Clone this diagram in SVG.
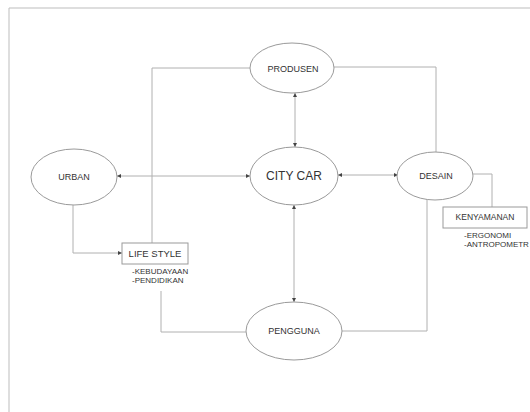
<svg xmlns="http://www.w3.org/2000/svg" width="530" height="412" viewBox="0 0 530 412">
<style>
.ell{fill:#fff;stroke:#9a9a9a;stroke-width:1}
.box{fill:#fff;stroke:#9a9a9a;stroke-width:1}
.ln{fill:none;stroke:#b0b0b0;stroke-width:1}
text{font-family:"Liberation Sans",Arial,sans-serif;fill:#333}
.lbl{font-size:9px;text-anchor:middle}
.sub{font-size:8px}
</style>
<defs>
<marker id="ah" viewBox="0 0 6 6" refX="6" refY="3" markerWidth="4" markerHeight="4" orient="auto-start-reverse" markerUnits="userSpaceOnUse">
<path d="M0,0 L6,3 L0,6 Z" fill="#444"/>
</marker>
</defs>
<rect x="0" y="0" width="530" height="412" fill="#fff"/>
<g id="frame">
<path d="M9,412 V8 H530" fill="none" stroke="#bdbdbd" stroke-width="1"/>
</g>
<g id="connectors">
<line class="ln" x1="295" y1="93" x2="295" y2="147" marker-start="url(#ah)" marker-end="url(#ah)"/>
<line class="ln" x1="117" y1="176" x2="250" y2="176" marker-start="url(#ah)" marker-end="url(#ah)"/>
<line class="ln" x1="338" y1="175" x2="398" y2="175" marker-start="url(#ah)" marker-end="url(#ah)"/>
<line class="ln" x1="294" y1="205" x2="294" y2="302" marker-start="url(#ah)" marker-end="url(#ah)"/>
<polyline class="ln" points="250,68 152,68 152,243"/>
<polyline class="ln" points="334,67 436,67 436,152"/>
<polyline class="ln" points="73,205 73,253 122,253" marker-end="url(#ah)"/>
<polyline class="ln" points="161,291 161,332 246,332"/>
<polyline class="ln" points="342,331 427,331 427,199"/>
<polyline class="ln" points="473,174 492,174 492,207"/>
</g>
<g id="urban">
<ellipse class="ell" cx="74" cy="177" rx="43" ry="28"/>
<text class="lbl" x="74" y="180">URBAN</text>
</g>
<g id="produsen">
<ellipse class="ell" cx="292" cy="68" rx="42" ry="25"/>
<text class="lbl" x="293" y="72">PRODUSEN</text>
</g>
<g id="citycar">
<ellipse class="ell" cx="294" cy="176" rx="44" ry="29"/>
<text x="294" y="180" style="font-size:12px;text-anchor:middle">CITY CAR</text>
</g>
<g id="desain">
<ellipse class="ell" cx="435" cy="176" rx="38" ry="24"/>
<text class="lbl" x="436" y="179">DESAIN</text>
</g>
<g id="pengguna">
<ellipse class="ell" cx="294" cy="331" rx="48" ry="29"/>
<text class="lbl" x="294" y="334">PENGGUNA</text>
</g>
<g id="lifestyle">
<rect class="box" x="122" y="243" width="66" height="21"/>
<text x="155" y="257" style="font-size:9.5px;text-anchor:middle">LIFE STYLE</text>
<text class="sub" x="132" y="274">-KEBUDAYAAN</text>
<text class="sub" x="132" y="283">-PENDIDIKAN</text>
</g>
<g id="kenyamanan">
<rect class="box" x="443" y="207" width="84" height="21"/>
<text x="485" y="220" style="font-size:8.5px;text-anchor:middle">KENYAMANAN</text>
<text class="sub" x="464" y="238">-ERGONOMI</text>
<text class="sub" x="464" y="247">-ANTROPOMETR</text>
</g>
</svg>
